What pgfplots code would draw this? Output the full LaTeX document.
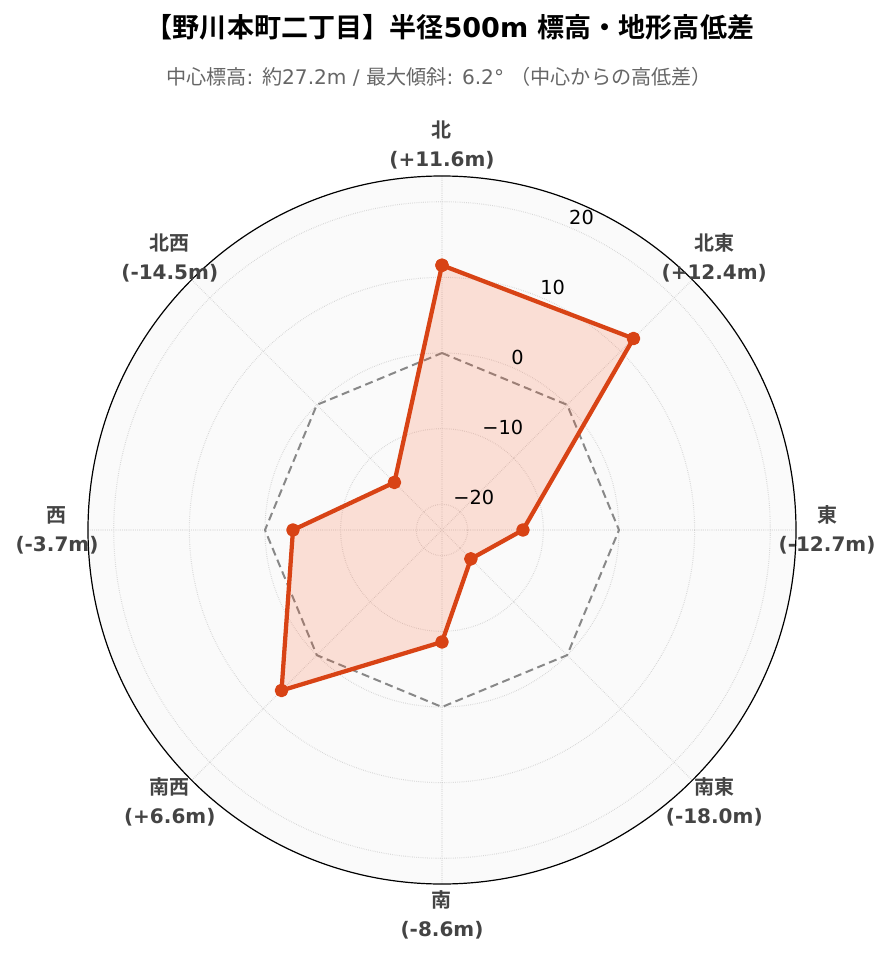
\documentclass[border=0pt]{standalone}
\usepackage{pgfplots}
\pgfplotsset{compat=1.18}
\usepgfplotslibrary{polar}
\usepackage{fontspec}
\setmainfont{DejaVu Sans}
\newfontfamily\cjk{Noto Sans CJK JP}[BoldFont={Noto Sans CJK JP Bold}]

\definecolor{lineC}{HTML}{D84315}
\definecolor{fillC}{HTML}{FF5722}
\definecolor{labC}{HTML}{444444}
\definecolor{gridC}{HTML}{D0D0D0}
\definecolor{zeroC}{HTML}{888888}
\definecolor{bgC}{HTML}{FAFAFA}

\tikzset{
  dirlab/.style={align=center, text=labC, font=\bfseries\fontsize{15}{21.8}\selectfont},
  ticklab/.style={anchor=south west, inner sep=1pt, font=\fontsize{14.5}{16}\selectfont},
}

\begin{document}
\begin{tikzpicture}[x=0.75pt,y=0.75pt]
% page frame: 892 x 962 px, circle centre at (442,530)
\path[use as bounding box] (-442,-432) rectangle (450,530);

\node[font=\bfseries\fontsize{20.3}{23}\selectfont] at (8,503)
  {{\cjk 【野川本町二丁目】半径}500m {\cjk 標高・地形高低差}};
\node[font=\fontsize{15.1}{17}\selectfont, text=black!60] at (-3,453)
  {{\cjk 中心標高}: {\cjk 約}27.2m / {\cjk 最大傾斜}: 6.2° {\cjk （中心からの高低差）}};

\begin{polaraxis}[
    at={(0,0)}, anchor=center,
    scale only axis,
    width=531pt, height=531pt,
    clip=false,
    y coord trafo/.code={\pgfmathparse{#1+23.4}},
    y coord inv trafo/.code={\pgfmathparse{#1-23.4}},
    ymin=-23.4, ymax=23.4,
    xtick={0,45,...,315},
    xticklabels={},
    ytick={-20,-10,0,10,20},
    yticklabels={},
    major tick length=0pt,
    grid=major,
    major grid style={gridC, densely dotted, line width=0.8pt},
    axis line style={black, line width=0.9pt},
    y axis line style={draw=none},
    axis background/.style={fill=bgC},
]
% zero reference
\addplot[zeroC, dash pattern=on 6pt off 3.5pt, line width=1.5pt] coordinates {
  (90,0) (45,0) (0,0) (315,0) (270,0) (225,0) (180,0) (135,0) (90,0)
};
% elevation difference
\addplot[lineC, line width=3.2pt, line join=round,
  fill=fillC, fill opacity=0.17, draw opacity=1,
  mark=*, mark size=3.5pt, mark options={fill=lineC, draw=lineC, fill opacity=1}]
coordinates {
  (90,11.6) (45,12.4) (0,-12.7) (315,-18.0) (270,-8.6) (225,6.6) (180,-3.7) (135,-14.5) (90,11.6)
};

% radial tick labels
\node[ticklab] at (axis cs:67.5,-20) {−20};
\node[ticklab] at (axis cs:67.5,-10) {−10};
\node[ticklab] at (axis cs:67.5,0) {0};
\node[ticklab] at (axis cs:67.5,10) {10};
\node[ticklab] at (axis cs:67.5,20) {20};

% direction labels
\node[dirlab] at (axis cs:90,27.5)  {{\cjk 北}\\(+11.6m)};
\node[dirlab] at (axis cs:45,27.5)  {{\cjk 北東}\\(+12.4m)};
\node[dirlab] at (axis cs:0,27.5)   {{\cjk 東}\\(-12.7m)};
\node[dirlab] at (axis cs:315,27.5) {{\cjk 南東}\\(-18.0m)};
\node[dirlab] at (axis cs:270,27.5) {{\cjk 南}\\(-8.6m)};
\node[dirlab] at (axis cs:225,27.5) {{\cjk 南西}\\(+6.6m)};
\node[dirlab] at (axis cs:180,27.5) {{\cjk 西}\\(-3.7m)};
\node[dirlab] at (axis cs:135,27.5) {{\cjk 北西}\\(-14.5m)};
\end{polaraxis}
\end{tikzpicture}
\end{document}
